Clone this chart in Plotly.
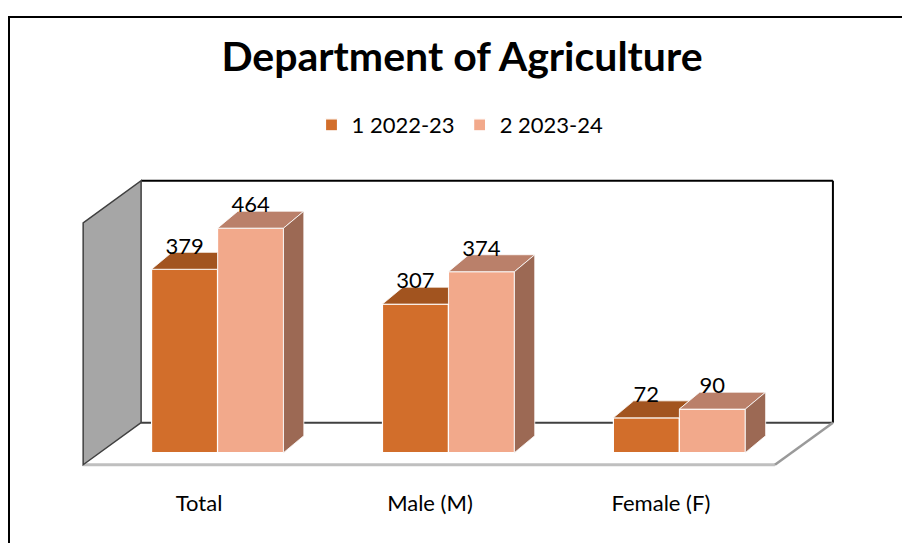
import plotly.graph_objects as go

# ---------------- data ----------------
categories = ["Total", "Male (M)", "Female (F)"]
series_names = ["1 2022-23", "2 2023-24"]
values_2022 = [379, 307, 72]
values_2023 = [464, 374, 90]

# ---------------- style / geometry ----------------
FONT = "Lato"
C1_FRONT, C1_TOP = "#D26E2B", "#A2541F"
C2_FRONT, C2_TOP, C2_SIDE = "#F2A98B", "#BA806A", "#9C6954"

BAR_W = 1 / 3.5          # gap width 150%, two series
DX, DY = 0.088, 35       # oblique depth of a bar (x units, value units)
LABEL_DROP = 14          # data label sits on the back edge of the bar top
AX_MAX = 500
FLOOR_FRONT_Y = -25
BACK_DX, BACK_DY = 0.251, 87   # floor depth from front edge to back wall
X_RANGE = [-0.6, 2.7]
Y_RANGE = [-40, 580]
ML, MR, MT, MB = 79, 61, 172, 71
W, H = 902, 543
PW, PH = W - ML - MR, H - MT - MB


def paper_x(px):
    return (px - ML) / PW


def paper_y(py):
    return (H - MB - py) / PH


xs = list(range(len(categories)))
left_x = X_RANGE[0] + 0.018
right_front_x = 2.414
fl_front = FLOOR_FRONT_Y
fl_back = FLOOR_FRONT_Y + BACK_DY

fig = go.Figure()

# front faces (bars)
fig.add_trace(go.Bar(
    x=xs, y=values_2022, name=series_names[0], width=BAR_W, offset=-BAR_W,
    marker=dict(color=C1_FRONT, line=dict(color="white", width=1.2)),
))
fig.add_trace(go.Bar(
    x=xs, y=values_2023, name=series_names[1], width=BAR_W, offset=0,
    marker=dict(color=C2_FRONT, line=dict(color="white", width=1.2)),
))

# top face of series 1 (clipped where series 2 box covers it)
for i, (v1, v2) in enumerate(zip(values_2022, values_2023)):
    xl, xr = i - BAR_W, i
    pts = [(xl, v1), (xr, v1)]
    if v2 < v1 + DY:
        pts += [(xr, v2), (xr + DX * (v1 + DY - v2) / DY, v1 + DY)]
    else:
        pts += [(xr, v1 + DY)]
    pts += [(xl + DX, v1 + DY), (xl, v1)]
    fig.add_trace(go.Scatter(
        x=[p[0] for p in pts], y=[p[1] for p in pts], mode="lines",
        fill="toself", fillcolor=C1_TOP, line=dict(color="white", width=0.8),
        showlegend=False, hoverinfo="skip"))

# top and side faces of series 2
for i, v2 in enumerate(values_2023):
    xl, xr = i, i + BAR_W
    top = [(xl, v2), (xr, v2), (xr + DX, v2 + DY), (xl + DX, v2 + DY), (xl, v2)]
    side = [(xr, 0), (xr + DX, DY), (xr + DX, v2 + DY), (xr, v2), (xr, 0)]
    fig.add_trace(go.Scatter(
        x=[p[0] for p in top], y=[p[1] for p in top], mode="lines",
        fill="toself", fillcolor=C2_TOP, line=dict(color="white", width=0.8),
        showlegend=False, hoverinfo="skip"))
    fig.add_trace(go.Scatter(
        x=[p[0] for p in side], y=[p[1] for p in side], mode="lines",
        fill="toself", fillcolor=C2_SIDE, line=dict(color="white", width=0.8),
        showlegend=False, hoverinfo="skip"))

# data labels
for vals, off in ((values_2022, -BAR_W / 2), (values_2023, BAR_W / 2)):
    fig.add_trace(go.Scatter(
        x=[i + off for i in xs], y=[v + DY - LABEL_DROP for v in vals], mode="text",
        text=[str(v) for v in vals], textposition="top center",
        textfont=dict(family=FONT, size=22, color="black"),
        showlegend=False, hoverinfo="skip", cliponaxis=False))

# ---------------- 3D walls / floor (decoration) ----------------
shapes = []
bx0, bx1 = left_x + BACK_DX, right_front_x + BACK_DX
# floor
shapes.append(dict(type="path", xref="x", yref="y", layer="below",
                   path=f"M{left_x},{fl_front} L{right_front_x},{fl_front} L{bx1},{fl_back} L{bx0},{fl_back} Z",
                   fillcolor="white", line=dict(width=0)))
# back wall
shapes.append(dict(type="rect", xref="x", yref="y", layer="below",
                   x0=bx0, x1=bx1, y0=fl_back, y1=fl_back + AX_MAX,
                   fillcolor="white", line=dict(width=0)))
shapes.append(dict(type="line", xref="x", yref="y", layer="below",
                   x0=bx0, x1=bx1, y0=fl_back + AX_MAX, y1=fl_back + AX_MAX,
                   line=dict(color="black", width=2)))
shapes.append(dict(type="line", xref="x", yref="y", layer="below",
                   x0=bx1, x1=bx1, y0=fl_back, y1=fl_back + AX_MAX,
                   line=dict(color="black", width=2)))
shapes.append(dict(type="line", xref="x", yref="y", layer="below",
                   x0=bx0, x1=bx1, y0=fl_back, y1=fl_back,
                   line=dict(color="#404040", width=2)))
# floor edges
shapes.append(dict(type="line", xref="x", yref="y", layer="below",
                   x0=left_x, x1=right_front_x, y0=fl_front, y1=fl_front,
                   line=dict(color="#BFBFBF", width=3)))
shapes.append(dict(type="line", xref="x", yref="y", layer="below",
                   x0=right_front_x, x1=bx1, y0=fl_front, y1=fl_back,
                   line=dict(color="#9A9A9A", width=2.5)))
# side wall
shapes.append(dict(type="path", xref="x", yref="y", layer="below",
                   path=f"M{left_x},{fl_front} L{bx0},{fl_back} L{bx0},{fl_back + AX_MAX} L{left_x},{fl_front + AX_MAX} Z",
                   fillcolor="#A6A6A6", line=dict(color="#404040", width=1.5)))
# outer chart border
shapes.append(dict(type="rect", xref="paper", yref="paper", layer="below",
                   x0=paper_x(9), x1=paper_x(915), y0=paper_y(560), y1=paper_y(17),
                   fillcolor="rgba(0,0,0,0)", line=dict(color="black", width=2)))

fig.update_layout(
    width=W, height=H,
    margin=dict(l=ML, r=MR, t=MT, b=MB),
    paper_bgcolor="white", plot_bgcolor="white",
    barmode="overlay",
    shapes=shapes,
    font=dict(family=FONT, color="black"),
    title=dict(text="<b>Department of Agriculture</b>", x=462 / W, xanchor="center",
               y=1 - 57 / H, yanchor="middle", xref="container", yref="container",
               font=dict(family=FONT, size=41, color="black")),
    legend=dict(orientation="h", x=0.5, xanchor="center", y=1 - 125 / H, yanchor="middle",
                yref="container", font=dict(family=FONT, size=22, color="black"),
                traceorder="normal", itemclick=False),
    xaxis=dict(range=X_RANGE, showgrid=False, zeroline=False, showline=False,
               tickvals=[i - 0.08 for i in xs], ticktext=categories, ticks="",
               ticklabelstandoff=16, tickfont=dict(family=FONT, size=22, color="black"),
               fixedrange=True),
    yaxis=dict(range=Y_RANGE, showgrid=False, zeroline=False, showline=False,
               showticklabels=False, ticks="", fixedrange=True),
    showlegend=True,
)

fig.write_html(
    "out.html",
    config={"displayModeBar": False},
    post_script="document.body.style.margin='0';document.body.style.overflow='hidden';",
)
